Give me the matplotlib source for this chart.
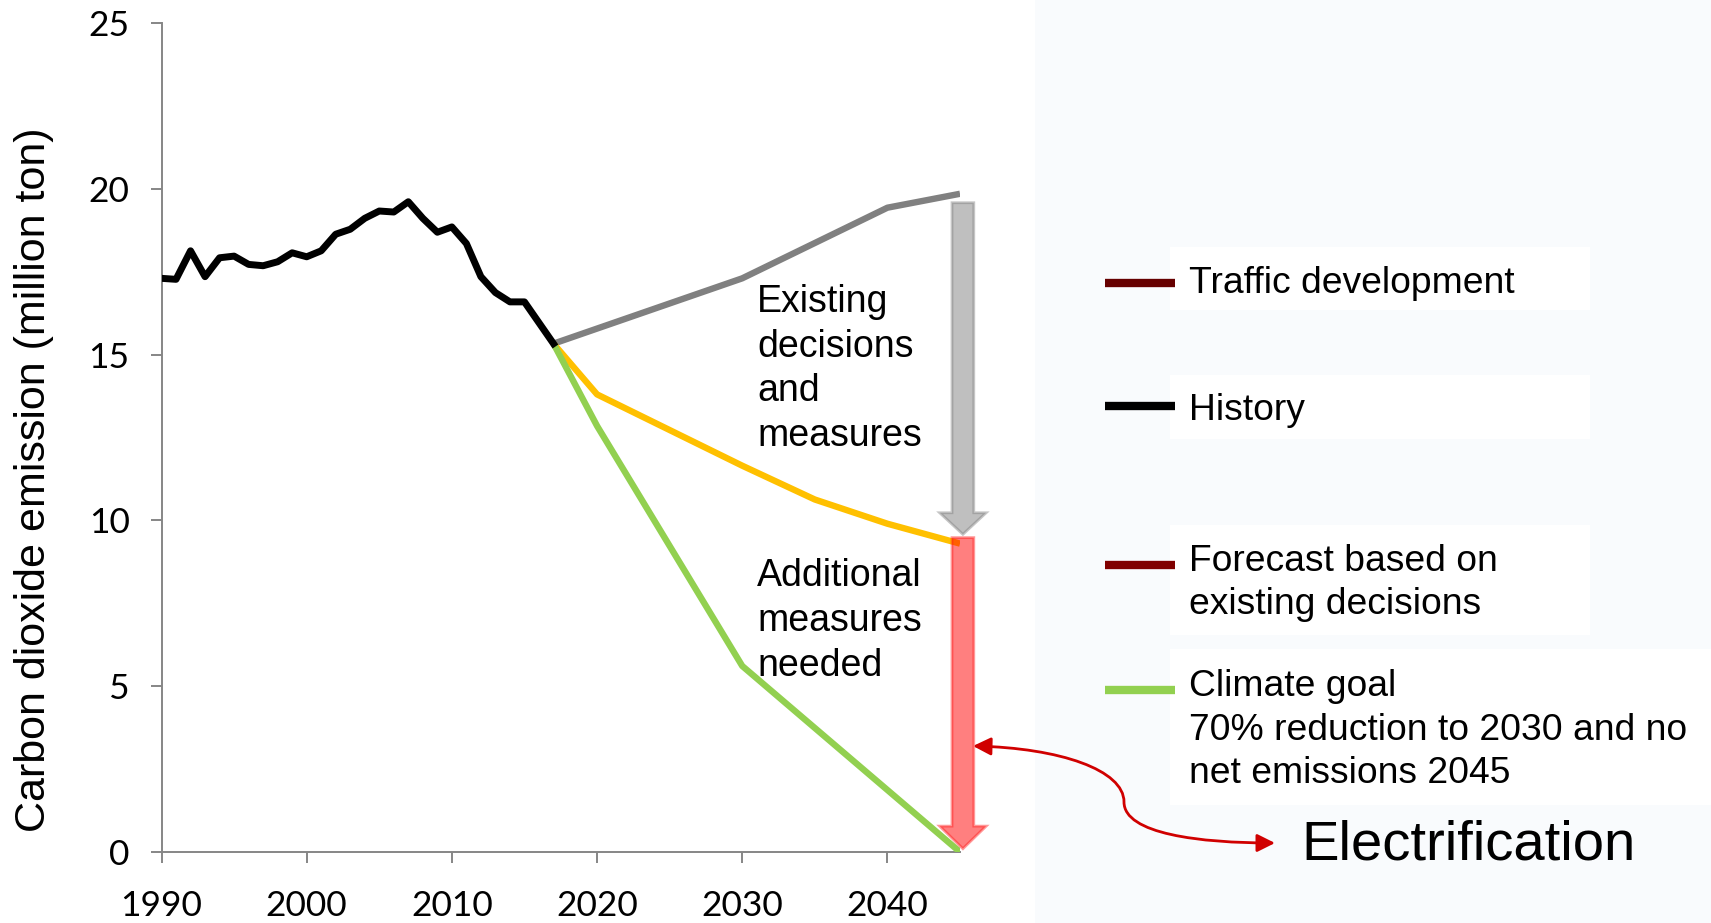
import matplotlib
matplotlib.use("Agg")
import matplotlib.pyplot as plt
from matplotlib.patches import FancyArrow, FancyArrowPatch, Rectangle
from matplotlib.lines import Line2D
from matplotlib.path import Path

# historic emissions (million ton CO2)
hist_years = list(range(1990, 2018))
hist_vals = [17.30, 17.27, 18.13, 17.35, 17.92, 17.97, 17.72, 17.68, 17.80, 18.07,
             17.95, 18.13, 18.63, 18.78, 19.11, 19.33, 19.30, 19.61, 19.11, 18.69,
             18.85, 18.35, 17.35, 16.87, 16.59, 16.59, 15.96, 15.33]

# traffic development (grey)
traffic_years = [2017, 2030, 2040, 2045]
traffic_vals = [15.33, 17.30, 19.43, 19.85]

# forecast based on existing decisions (orange)
forecast_years = [2017, 2020, 2030, 2035, 2040, 2045]
forecast_vals = [15.33, 13.80, 11.65, 10.63, 9.90, 9.30]

# climate goal (green)
goal_years = [2017, 2020, 2030, 2045]
goal_vals = [15.33, 12.85, 5.61, 0.0]

x_ticks = [1990, 2000, 2010, 2020, 2030, 2040]
y_ticks = [0, 5, 10, 15, 20, 25]

legend_items = [
    ("Traffic development", "#660000"),
    ("History", "#000000"),
    ("Forecast based on\nexisting decisions", "#800000"),
    ("Climate goal\n70% reduction to 2030 and no\nnet emissions 2045", "#92D050"),
]

W, H = 1711, 923
fig = plt.figure(figsize=(W / 100, H / 100), dpi=100)
fig.patch.set_facecolor("white")


def fx(px):
    return px / W


def fy(py):
    return 1 - py / H


# light panel on the right
fig.add_artist(Rectangle((fx(1035), 0), 1 - fx(1035), 1, transform=fig.transFigure,
                         facecolor="#F9FBFD", edgecolor="none", zorder=0))

ax = fig.add_axes([161.5 / W, 1 - 852 / H, 798.5 / W, 829 / H])
ax.set_facecolor("white")
ax.set_xlim(1990, 2045)
ax.set_ylim(0, 25)

ax.plot(traffic_years, traffic_vals, color="#808080", lw=4.6, solid_capstyle="butt", zorder=3)
ax.plot(forecast_years, forecast_vals, color="#FFC000", lw=4.6, solid_capstyle="butt", zorder=3)
ax.plot(goal_years, goal_vals, color="#92D050", lw=4.6, solid_capstyle="butt", zorder=3)
ax.plot(hist_years, hist_vals, color="black", lw=5, zorder=4)

# block arrows at 2045
arrow_x = 2045.2
g_top = traffic_vals[-1] - 0.27
g_tip = forecast_vals[-1] + 0.28
ax.add_patch(FancyArrow(arrow_x, g_top, 0, g_tip - g_top, width=1.5, head_width=3.2,
                        head_length=0.65, length_includes_head=True,
                        facecolor=(0.5, 0.5, 0.5, 0.5), edgecolor=(0.5, 0.5, 0.5, 0.45),
                        lw=2, clip_on=False, zorder=5))
r_top = forecast_vals[-1] + 0.18
r_tip = goal_vals[-1] + 0.1
ax.add_patch(FancyArrow(arrow_x, r_top, 0, r_tip - r_top, width=1.5, head_width=3.2,
                        head_length=0.68, length_includes_head=True,
                        facecolor=(1, 0, 0, 0.5), edgecolor=(1, 0.1, 0.1, 0.45),
                        lw=2, clip_on=False, zorder=5))

for s in ["top", "right"]:
    ax.spines[s].set_visible(False)
for s in ["left", "bottom"]:
    ax.spines[s].set_color("#868686")
    ax.spines[s].set_linewidth(1.4)

ax.set_xticks(x_ticks)
ax.set_yticks(y_ticks)
ax.tick_params(axis="both", direction="out", length=8, width=1.4, color="#868686",
               labelsize=25.5)
ax.tick_params(axis="y", pad=15)
ax.tick_params(axis="x", pad=19)
for lab in ax.get_xticklabels() + ax.get_yticklabels():
    lab.set_fontfamily("Lato")

ax.set_ylabel("Carbon dioxide emission (million ton)", fontsize=31,
              fontfamily="Liberation Sans")
ax.yaxis.set_label_coords(-0.135, 0.449)

# text inside plot
fig.text(fx(757), fy(369), "Existing\ndecisions\nand\nmeasures", fontsize=27,
         fontfamily="Liberation Sans", ha="left", va="center", linespacing=1.32,
         bbox=dict(facecolor="white", edgecolor="none", pad=1), zorder=6)
fig.text(fx(757), fy(621), "Additional\nmeasures\nneeded", fontsize=27,
         fontfamily="Liberation Sans", ha="left", va="center", linespacing=1.32,
         zorder=6)

# legend on the right
box_rows = [(247, 310, 1590), (375, 439, 1590), (525, 635, 1590), (649, 805, W)]
line_rows = [283, 406, 565, 690]
text_rows = [283.5, 410.5, 583, 730]
for (label, col), (y0, y1, x1), ly, ty in zip(legend_items, box_rows, line_rows, text_rows):
    fig.add_artist(Rectangle((fx(1170), fy(y1)), fx(x1) - fx(1170), fy(y0) - fy(y1),
                             transform=fig.transFigure, facecolor="white",
                             edgecolor="none", zorder=1))
    fig.add_artist(Line2D([fx(1105), fx(1175)], [fy(ly), fy(ly)], color=col, lw=6,
                          solid_capstyle="butt", transform=fig.transFigure, zorder=2))
    fig.text(fx(1189), fy(ty), label, fontsize=26.8, fontfamily="Liberation Sans",
             ha="left", va="center", linespacing=1.32, zorder=3)

fig.text(fx(1301), fy(846), "Electrification", fontsize=40.5,
         fontfamily="Liberation Sans", ha="left", va="center", zorder=3)

# curved connector between red arrow and "Electrification"
verts = [(973, 746), (1060, 748), (1124, 770), (1124, 802),
         (1124, 834), (1200, 843), (1275, 843)]
codes = [Path.MOVETO, Path.CURVE4, Path.CURVE4, Path.CURVE4,
         Path.CURVE4, Path.CURVE4, Path.CURVE4]
path = Path([(fx(x), fy(y)) for x, y in verts], codes)
fig.add_artist(FancyArrowPatch(path=path, arrowstyle="<|-|>,head_length=0.6,head_width=0.3",
                               mutation_scale=18, color="#D00000", lw=2,
                               transform=fig.transFigure, zorder=7))

fig.savefig("out.png", dpi=100)
